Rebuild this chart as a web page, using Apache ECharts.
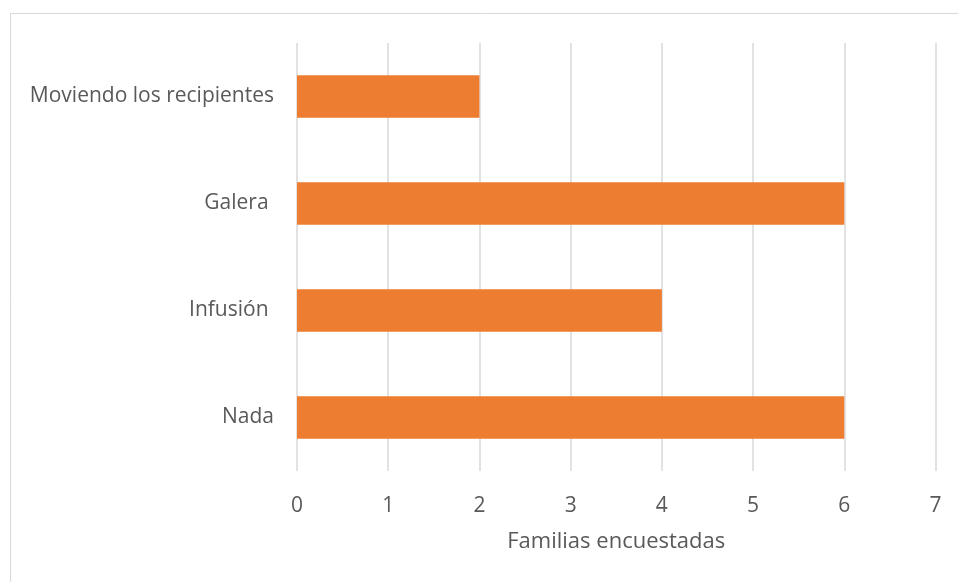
<!DOCTYPE html>
<html><head><meta charset="utf-8">
<script src="https://cdn.jsdelivr.net/npm/echarts@6/dist/echarts.min.js"></script>
<style>html,body{margin:0;padding:0;background:#fff}#c{width:958px;height:582px}</style>
</head><body><div id="c"></div>
<script>
const categories = ["Nada", "Infusión ", "Galera ", "Moviendo los recipientes"];
const values = [6, 4, 6, 2];
const xTicks = [0, 1, 2, 3, 4, 5, 6, 7];
const xAxisTitle = "Familias encuestadas";

const chart = echarts.init(document.getElementById('c'), null, {renderer: 'canvas'});
const font = "'Open Sans', sans-serif";
chart.setOption({
  animation: false,
  backgroundColor: '#fff',
  graphic: [{type: 'rect', shape: {x: 10.5, y: 13.5, width: 1000, height: 1000}, style: {fill: 'none', stroke: '#D9D9D9', lineWidth: 1}, silent: true}],
  grid: {left: 297, right: 22.5, top: 43, bottom: 111, containLabel: false},
  xAxis: {
    type: 'value', min: xTicks[0], max: xTicks[xTicks.length - 1], interval: 1,
    name: xAxisTitle, nameLocation: 'middle', nameGap: 60,
    nameTextStyle: {color: '#595959', fontSize: 22, fontFamily: font},
    axisLine: {show: false}, axisTick: {show: false},
    axisLabel: {color: '#595959', fontSize: 21, fontFamily: font, margin: 25},
    splitLine: {show: true, lineStyle: {color: '#D9D9D9', width: 1.5}}
  },
  yAxis: {
    type: 'category', data: categories,
    axisLine: {show: false}, axisTick: {show: false},
    axisLabel: {color: '#595959', fontSize: 21, fontFamily: font, margin: 23, padding: [3, 0, 0, 0]}
  },
  series: [{type: 'bar', data: values, barWidth: '39.5%', itemStyle: {color: '#ED7D31'}}]
});
</script></body></html>
